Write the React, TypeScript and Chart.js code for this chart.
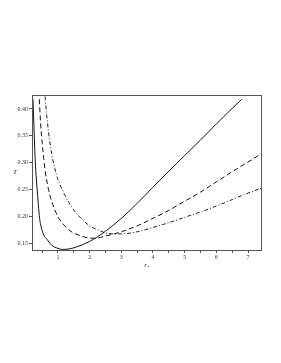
import { useEffect, useRef } from "react";
import { Chart, registerables } from "chart.js";

Chart.register(...registerables);

// Solid curve
const solidR = [0.21, 0.24, 0.27, 0.3, 0.34, 0.38, 0.42, 0.47, 0.55, 0.65, 0.8, 1.0, 1.15, 1.35, 1.6, 2.0, 2.5, 3.0, 3.5, 4.0, 4.5, 5.0, 5.5, 6.0, 6.5, 6.8];
const solidT = [0.418, 0.37, 0.32, 0.285, 0.252, 0.222, 0.196, 0.18, 0.165, 0.157, 0.146, 0.14, 0.138, 0.139, 0.143, 0.153, 0.172, 0.196, 0.224, 0.254, 0.284, 0.313, 0.342, 0.372, 0.401, 0.418];

// Dashed curve
const dashedR = [0.41, 0.45, 0.5, 0.55, 0.6, 0.7, 0.8, 0.9, 1.0, 1.2, 1.4, 1.6, 1.8, 2.0, 2.2, 2.5, 3.0, 3.5, 4.0, 4.5, 5.0, 5.5, 6.0, 6.5, 7.0, 7.41];
const dashedT = [0.418, 0.375, 0.338, 0.308, 0.283, 0.25, 0.228, 0.212, 0.199, 0.183, 0.172, 0.166, 0.162, 0.159, 0.159, 0.163, 0.171, 0.182, 0.196, 0.211, 0.228, 0.245, 0.264, 0.283, 0.301, 0.316];

// Dash-dot curve
const dashDotR = [0.57, 0.6, 0.65, 0.7, 0.8, 0.9, 1.0, 1.1, 1.2, 1.4, 1.6, 1.8, 2.0, 2.2, 2.5, 2.8, 3.0, 3.5, 4.0, 4.5, 5.0, 5.5, 6.0, 6.5, 7.0, 7.41];
const dashDotT = [0.44, 0.418, 0.385, 0.358, 0.317, 0.289, 0.268, 0.254, 0.241, 0.22, 0.204, 0.192, 0.182, 0.176, 0.169, 0.167, 0.167, 0.171, 0.179, 0.188, 0.198, 0.208, 0.219, 0.231, 0.243, 0.252];

const xMajorTicks = [1, 2, 3, 4, 5, 6, 7];
const xMinorTicks = [0.5, 1.5, 2.5, 3.5, 4.5, 5.5, 6.5];
const yTicks = [0.15, 0.2, 0.25, 0.3, 0.35, 0.4];
const xTitle = "r\u208A";
const yTitle = "T";

export default function App() {
  const ref = useRef<HTMLCanvasElement>(null);

  useEffect(() => {
    if (!ref.current) return;
    const toPts = (xs: number[], ys: number[]) => xs.map((x, i) => ({ x, y: ys[i] }));
    const fontFam = '"Liberation Serif", "Times New Roman", serif';

    const boxPlugin = {
      id: "boxAndYTitle",
      afterDraw(chart: any) {
        const { ctx, chartArea: a } = chart;
        ctx.save();
        ctx.strokeStyle = "#555";
        ctx.lineWidth = 1;
        const l = Math.round(a.left) + 0.5;
        const t = Math.round(a.top) + 0.5;
        const r = Math.round(a.right) + 0.5;
        const b = Math.round(a.bottom) + 0.5;
        ctx.strokeRect(l, t, r - l, b - t);
        ctx.font = `italic 7px ${fontFam}`;
        ctx.fillStyle = "#222";
        ctx.textAlign = "center";
        ctx.textBaseline = "middle";
        ctx.fillText(yTitle, 15, (a.top + a.bottom) / 2);
        ctx.restore();
      },
    };

    const chart = new Chart(ref.current, {
      type: "line",
      data: {
        datasets: [
          {
            data: toPts(solidR, solidT),
            borderColor: "#111",
            borderWidth: 1,
            pointRadius: 0,
            cubicInterpolationMode: "monotone",
          },
          {
            data: toPts(dashedR, dashedT),
            borderColor: "#111",
            borderWidth: 1,
            borderDash: [5, 3],
            pointRadius: 0,
            cubicInterpolationMode: "monotone",
          },
          {
            data: toPts(dashDotR, dashDotT),
            borderColor: "#222",
            borderWidth: 1,
            borderDash: [4, 2, 1, 2],
            pointRadius: 0,
            cubicInterpolationMode: "monotone",
          },
        ],
      },
      plugins: [boxPlugin],
      options: {
        animation: false,
        responsive: false,
        events: [],
        layout: { padding: { left: 0, top: 95, right: 20, bottom: 93 } },
        plugins: {
          legend: { display: false },
          tooltip: { enabled: false },
          title: { display: false },
        },
        scales: {
          x: {
            type: "linear",
            min: 0.18,
            max: 7.41,
            afterBuildTicks: (scale: any) => {
              scale.ticks = [...xMinorTicks, ...xMajorTicks]
                .sort((p, q) => p - q)
                .map((v) => ({ value: v }));
            },
            afterFit: (scale: any) => {
              scale.height = 20;
            },
            grid: {
              display: true,
              drawOnChartArea: false,
              drawTicks: true,
              tickLength: 3,
              color: "#555",
            },
            border: { display: true, color: "#555" },
            ticks: {
              autoSkip: false,
              maxRotation: 0,
              padding: 1,
              color: "#333",
              font: { family: fontFam, size: 6 },
              callback: (v: any) => (xMajorTicks.includes(Number(v)) ? String(v) : ""),
            },
            title: {
              display: true,
              text: xTitle,
              color: "#222",
              padding: { top: 0, bottom: 1 },
              font: { family: fontFam, size: 7, style: "italic" },
            },
          },
          y: {
            type: "linear",
            min: 0.137,
            max: 0.426,
            afterBuildTicks: (scale: any) => {
              scale.ticks = yTicks.map((v) => ({ value: v }));
            },
            afterFit: (scale: any) => {
              scale.width = 32;
            },
            grid: {
              display: true,
              drawOnChartArea: false,
              drawTicks: true,
              tickLength: 3,
              color: "#555",
            },
            border: { display: true, color: "#555" },
            ticks: {
              autoSkip: false,
              padding: 1,
              color: "#333",
              font: { family: fontFam, size: 6 },
              callback: (v: any) => Number(v).toFixed(2),
            },
            title: { display: false },
          },
        },
      },
    } as any);

    return () => chart.destroy();
  }, []);

  return (
    <div style={{ position: "fixed", left: 0, top: 0, width: 281, height: 363, background: "#fff" }}>
      <canvas ref={ref} width={281} height={363} style={{ width: 281, height: 363, display: "block" }} />
    </div>
  );
}
